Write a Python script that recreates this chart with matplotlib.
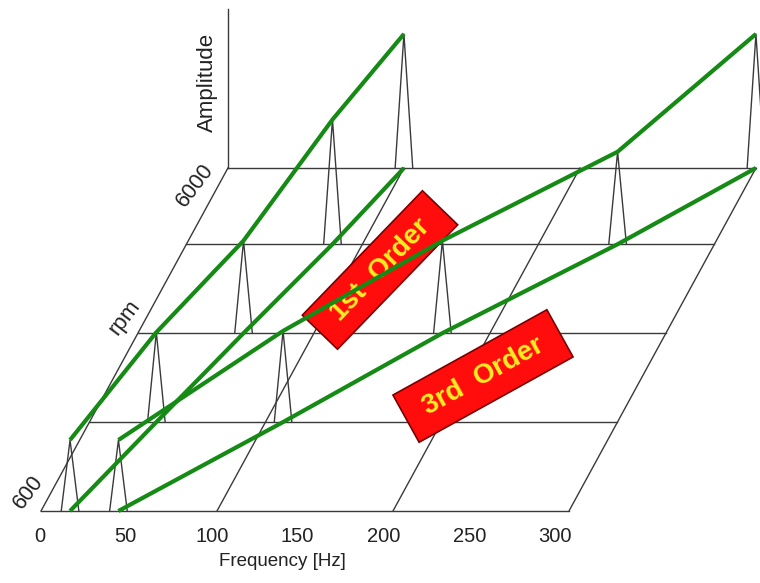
import numpy as np
import matplotlib.pyplot as plt
from matplotlib.patches import Polygon

plt.rcParams['font.family'] = ['Liberation Sans', 'DejaVu Sans']

# rpm of each spectrum slice, and the order peaks read per slice
rpm_rows = [600, 2000, 3400, 4800, 6000]
freq_1st = [16.5, 38, 60, 83, 100]
freq_3rd = [44, 110, 173, 245, 300]
amp_1st = [0.53, 0.67, 0.69, 0.93, 1.0]
amp_3rd = [0.53, 0.68, 0.69, 0.69, 1.0]
freq_ticks = [0, 50, 100, 150, 200, 250, 300]
freq_grid = [0, 100, 200, 300]
rpm_labels = [600, 6000]

# oblique projection into pixel space
X0, Y0 = 41, 511
PX_HZ = 1.76
DEPTH = 343
SLANT = 0.545
AMP_PX = 134
HALF_W = 5.0  # half base width of a peak in Hz

def proj(f, rpm, a=0.0):
    d = (np.asarray(rpm, float) - 600) / 5400 * DEPTH
    x = X0 + np.asarray(f, float) * PX_HZ + d * SLANT
    y = Y0 - d - np.asarray(a, float) * AMP_PX
    return x, y

fig = plt.figure(figsize=(7.6, 5.83), dpi=100)
ax = fig.add_axes([0, 0, 1, 1])
ax.set_xlim(0, 760)
ax.set_ylim(583, 0)
ax.axis('off')

grid_kw = dict(color='#3a3a3a', lw=1.0, zorder=1)

# floor: one baseline per rpm slice plus slanted frequency lines
for r in rpm_rows:
    x, y = proj([0, 300], [r, r])
    ax.plot(x, y, **grid_kw)
for f in freq_grid:
    x, y = proj([f, f], [600, 6000])
    ax.plot(x, y, **grid_kw)

# amplitude axis standing on the back corner
x, y = proj([0, 0], [6000, 6000], [0, 1.19])
ax.plot(x, y, **grid_kw)

# spectrum peaks
for r, f1, f3, a1, a3 in zip(rpm_rows, freq_1st, freq_3rd, amp_1st, amp_3rd):
    for f, a in ((f1, a1), (f3, a3)):
        x, y = proj([f - HALF_W, f, f + HALF_W], [r] * 3, [0, a, 0])
        ax.plot(x, y, **grid_kw)

# order tracks: along the peak tops and along the floor
green_kw = dict(color='#158a15', lw=3.0, solid_capstyle='butt', zorder=4)
for fr, am in ((freq_1st, amp_1st), (freq_3rd, amp_3rd)):
    x, y = proj(fr, rpm_rows, am)
    ax.plot(x, y, **green_kw)
    x, y = proj(fr, rpm_rows)
    ax.plot(x, y, **green_kw)

def tag(cx, cy, length, width, angle, text):
    t = np.deg2rad(angle)
    u = np.array([np.cos(t), -np.sin(t)]) * length / 2
    v = np.array([np.sin(t), np.cos(t)]) * width / 2
    c = np.array([cx, cy])
    pts = [c - u - v, c + u - v, c + u + v, c - u + v]
    ax.add_patch(Polygon(pts, closed=True, fc='#ff0d0d', ec='#7a0000',
                         lw=1.2, zorder=3))
    ax.text(cx, cy, text, rotation=angle, rotation_mode='anchor',
            ha='center', va='center', color='#ffee22', fontsize=20,
            fontweight='bold', zorder=3.5)

tag(380, 270, 173, 49, 46, '1st  Order')
tag(483, 376, 176, 54, 29, '3rd  Order')

# labels
for f in freq_ticks:
    ax.text(40 + f * 1.717, 537, str(f), ha='center', va='center',
            fontsize=14.5, color='#222222')
ax.text(282, 561, 'Frequency [Hz]', ha='center', va='center',
        fontsize=13.5, color='#222222')
ax.text(207, 82, 'Amplitude', rotation=90, ha='center', va='center',
        fontsize=16, color='#222222')
ax.text(195, 185, str(rpm_labels[1]), rotation=53, ha='center', va='center',
        fontsize=15.5, color='#222222')
ax.text(28, 492, str(rpm_labels[0]), rotation=53, ha='center', va='center',
        fontsize=15.5, color='#222222')
ax.text(125, 317, 'rpm', rotation=53, ha='center', va='center',
        fontsize=16, color='#222222')

fig.savefig('out.png', dpi=100)
